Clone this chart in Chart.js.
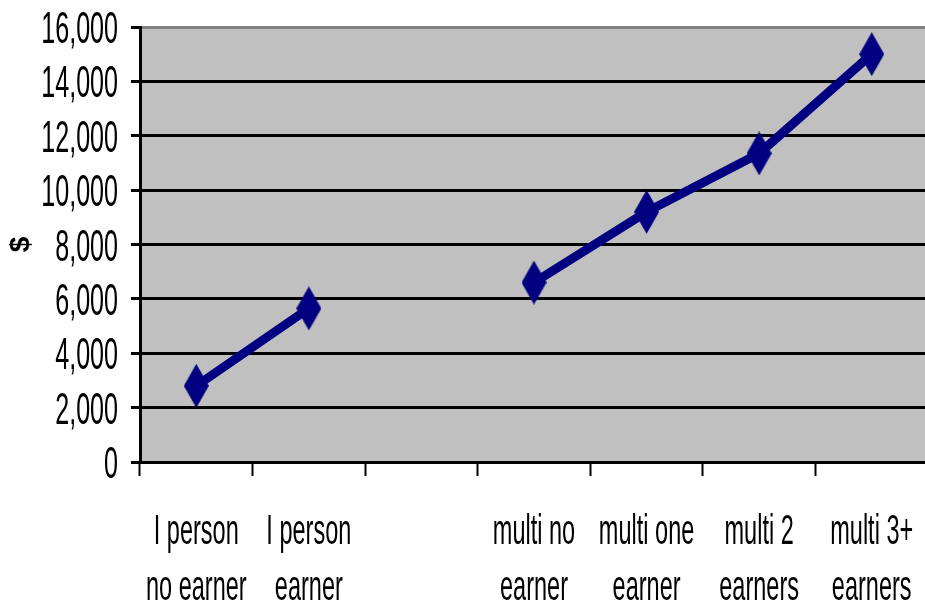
<!DOCTYPE html>
<html>
<head>
<meta charset="utf-8">
<script src="https://cdn.jsdelivr.net/npm/chart.js@4.4.1/dist/chart.umd.min.js"></script>
<style>
  html, body { margin: 0; padding: 0; background: #fff; overflow: hidden; }
  #wrap { width: 929px; height: 608px; }
</style>
</head>
<body>
<div id="wrap"><canvas id="grafico"></canvas></div>
<script>
// dados do gráfico
const categorias = [
  ['I person', 'no earner'],
  ['I person', 'earner'],
  '',
  ['multi no', 'earner'],
  ['multi one', 'earner'],
  ['multi 2', 'earners'],
  ['multi 3+', 'earners']
];
const valores = [2800, 5650, null, 6600, 9200, 11350, 15000];
const ticksY = [0, 2000, 4000, 6000, 8000, 10000, 12000, 14000, 16000];

// losango alto (marcador)
function losango(w, h, cor) {
  const c = document.createElement('canvas');
  c.width = w; c.height = h;
  const g = c.getContext('2d');
  g.fillStyle = cor;
  g.beginPath();
  g.moveTo(w / 2, 0);
  g.lineTo(w, h / 2);
  g.lineTo(w / 2, h);
  g.lineTo(0, h / 2);
  g.closePath();
  g.fill();
  return c;
}
const marcador = losango(25, 44, '#000080');

// fundo cinza da área do gráfico
const fundo = {
  id: 'fundo',
  beforeDraw(chart) {
    const { ctx, chartArea: a } = chart;
    ctx.save();
    ctx.fillStyle = '#c0c0c0';
    ctx.fillRect(a.left, a.top, a.right - a.left, a.bottom - a.top);
    ctx.restore();
  }
};

// rótulos estreitos (fonte comprimida como no original)
const rotulos = {
  id: 'rotulos',
  afterDraw(chart) {
    const { ctx } = chart;
    const y = chart.scales.y, x = chart.scales.x;
    ctx.save();
    ctx.fillStyle = '#000';
    ctx.textBaseline = 'alphabetic';

    ctx.font = '44px "Liberation Sans", Arial, sans-serif';
    ctx.textAlign = 'right';
    y.ticks.forEach(t => {
      const py = y.getPixelForValue(t.value);
      ctx.save();
      ctx.translate(y.right - 22, py + 16);
      ctx.scale(0.57, 1);
      ctx.fillText(t.value.toLocaleString('en-US'), 0, 0);
      ctx.restore();
    });

    ctx.font = '42px "Liberation Sans", Arial, sans-serif';
    ctx.textAlign = 'center';
    categorias.forEach((lab, i) => {
      const linhas = Array.isArray(lab) ? lab : [lab];
      const px = x.getPixelForValue(i);
      linhas.forEach((l, k) => {
        ctx.save();
        ctx.translate(px, x.top + 82 + k * 56);
        ctx.scale(0.56, 1);
        ctx.fillText(l, 0, 0);
        ctx.restore();
      });
    });
    ctx.restore();
  }
};

new Chart(document.querySelector('#grafico'), {
  type: 'line',
  data: {
    labels: categorias,
    datasets: [{
      data: valores,
      borderColor: '#000080',
      backgroundColor: '#000080',
      borderWidth: 9,
      pointStyle: marcador,
      pointRadius: 14,
      pointHoverRadius: 14,
      spanGaps: false,
      tension: 0
    }]
  },
  plugins: [fundo, rotulos],
  options: {
    responsive: true,
    maintainAspectRatio: false,
    animation: false,
    events: [],
    layout: { autoPadding: false, padding: { top: 27, right: 1, left: 0, bottom: 0 } },
    plugins: { legend: { display: false }, tooltip: { enabled: false } },
    scales: {
      x: {
        type: 'category',
        offset: true,
        ticks: { display: false },
        grid: {
          offset: true,
          drawOnChartArea: false,
          drawTicks: true,
          tickLength: 14,
          tickColor: '#000',
          tickWidth: 2
        },
        border: { display: true, color: '#000', width: 3 },
        afterFit(s) { s.height = 146; }
      },
      y: {
        min: 0,
        max: 16000,
        afterBuildTicks(s) { s.ticks = ticksY.map(v => ({ value: v })); },
        ticks: { display: false },
        grid: {
          color: ctx => (ctx.tick && ctx.tick.value === 16000) ? '#808080' : '#000',
          lineWidth: 3,
          drawTicks: true,
          tickLength: 9,
          tickColor: '#000',
          tickWidth: 3
        },
        border: { display: true, color: '#000', width: 3 },
        title: {
          display: true,
          text: '$',
          color: '#000',
          font: { family: '"Liberation Sans", Arial, sans-serif', size: 28, weight: 'bold' },
          padding: { top: 4, bottom: 0 }
        },
        afterFit(s) { s.width = 140; }
      }
    }
  }
});
</script>
</body>
</html>
